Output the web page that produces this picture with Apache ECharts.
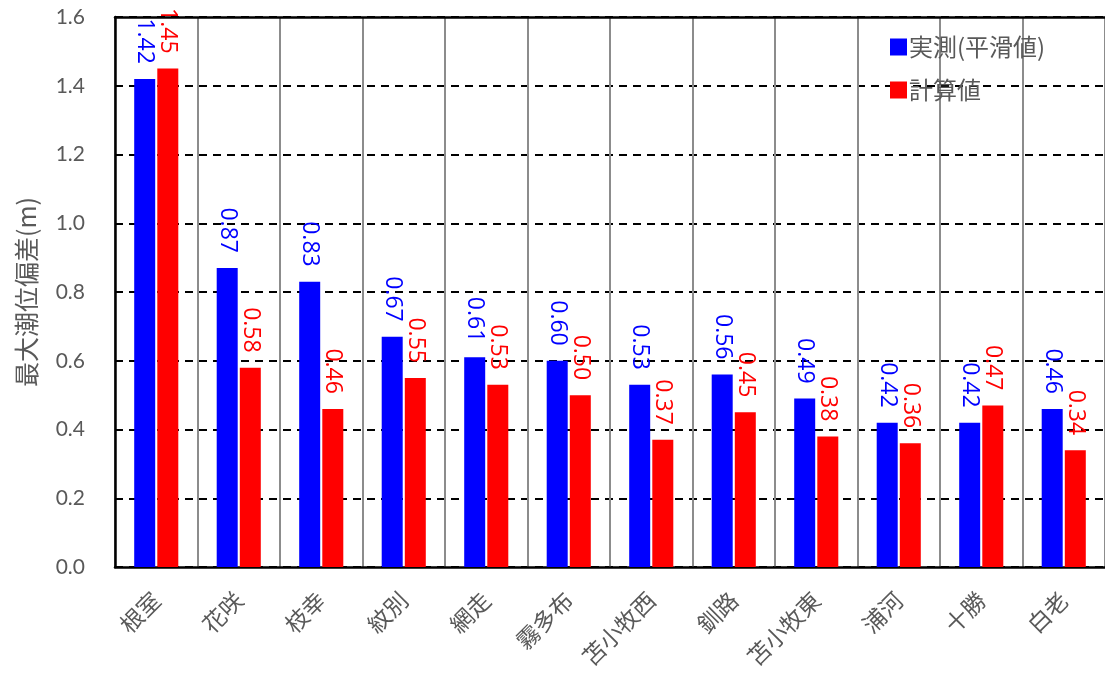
<!DOCTYPE html>
<html>
<head>
<meta charset="utf-8">
<script src="https://cdn.jsdelivr.net/npm/echarts@6/dist/echarts.min.js"></script>
<style>
  html, body { margin: 0; padding: 0; background: #ffffff; }
  #chart { width: 1105px; height: 682px; }
</style>
</head>
<body>
<div id="chart"></div>
<script>
// Stations along the coast
const stations = ['根室', '花咲', '枝幸', '紋別', '網走', '霧多布', '苫小牧西', '釧路', '苫小牧東', '浦河', '十勝', '白老'];
// Maximum tide deviation (m): observed (smoothed) and computed
const observed = [1.42, 0.87, 0.83, 0.67, 0.61, 0.60, 0.53, 0.56, 0.49, 0.42, 0.42, 0.46];
const computed = [1.45, 0.58, 0.46, 0.55, 0.53, 0.50, 0.37, 0.45, 0.38, 0.36, 0.47, 0.34];
const seriesNames = ['実測(平滑値)', '計算値'];
const yTicks = [0, 0.2, 0.4, 0.6, 0.8, 1.0, 1.2, 1.4, 1.6];

const latin = 'Lato, "Open Sans", sans-serif';
const labelFont = '"Open Sans", Lato, sans-serif';
const cjk = '"Noto Sans CJK JP", "Noto Sans", sans-serif';
const gray = '#595959';

function valueLabel(color) {
  return {
    show: true,
    position: 'top',
    rotate: -90,
    align: 'right',
    verticalAlign: 'middle',
    distance: 15,
    color: color,
    fontFamily: labelFont,
    fontSize: 23,
    formatter: p => p.value.toFixed(2)
  };
}

const chart = echarts.init(document.getElementById('chart'), null, { renderer: 'canvas' });
chart.setOption({
  animation: false,
  backgroundColor: '#ffffff',
  grid: { left: 115, right: -2, top: 17, bottom: 115, containLabel: false },
  legend: {
    orient: 'vertical',
    left: 885,
    top: 30,
    itemWidth: 17,
    itemHeight: 17,
    itemGap: 19,
    icon: 'rect',
    textStyle: { color: gray, fontFamily: cjk, fontSize: 24, padding: [0, 0, 0, -3] },
    data: seriesNames
  },
  xAxis: [{
    type: 'category',
    data: stations,
    boundaryGap: true,
    axisLine: { show: true, lineStyle: { color: '#000000', width: 2.5 } },
    axisTick: { show: false },
    splitLine: { show: true, lineStyle: { color: '#8c8c8c', width: 2 } },
    axisLabel: {
      rotate: 45,
      margin: 29,
      color: gray,
      fontFamily: cjk,
      fontSize: 23,
      interval: 0
    }
  }, {
    // top border line of the plot area
    type: 'category',
    position: 'top',
    data: stations,
    axisLine: { show: true, lineStyle: { color: '#000000', width: 2.5 } },
    axisTick: { show: false },
    axisLabel: { show: false },
    splitLine: { show: false }
  }],
  yAxis: {
    type: 'value',
    min: 0,
    max: 1.6,
    interval: 0.2,
    name: '最大潮位偏差(m)',
    nameLocation: 'middle',
    nameRotate: 90,
    nameGap: 76,
    nameTextStyle: { color: gray, fontFamily: cjk, fontSize: 25 },
    axisLine: { show: true, lineStyle: { color: '#000000', width: 2.5 } },
    axisTick: { show: false },
    axisLabel: {
      color: gray,
      fontFamily: latin,
      fontSize: 21,
      margin: 30,
      formatter: v => {
        const t = yTicks.find(x => Math.abs(x - v) < 1e-9);
        return (t !== undefined ? t : v).toFixed(1);
      }
    },
    splitLine: { show: true, lineStyle: { color: '#000000', width: 2, type: [8, 6] } }
  },
  series: [{
    name: seriesNames[0],
    type: 'bar',
    data: observed,
    barWidth: 21,
    barGap: '10%',
    itemStyle: { color: '#0000ff' },
    label: valueLabel('#0000ff')
  }, {
    name: seriesNames[1],
    type: 'bar',
    data: computed,
    barWidth: 21,
    barGap: '10%',
    itemStyle: { color: '#ff0000' },
    label: valueLabel('#ff0000')
  }]
});
</script>
</body>
</html>
